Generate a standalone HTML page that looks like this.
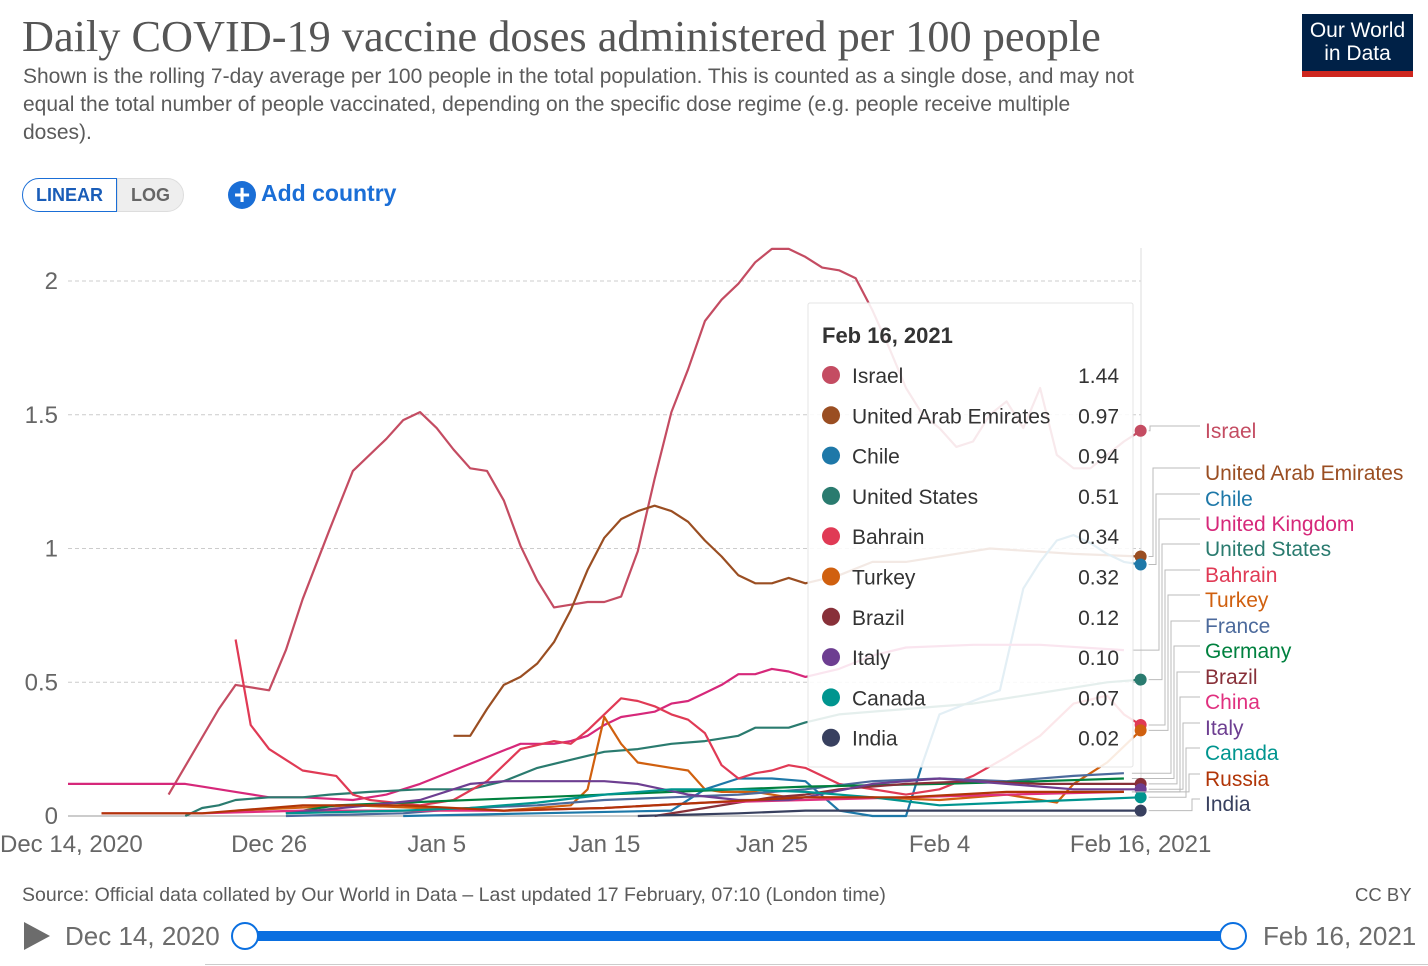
<!DOCTYPE html>
<html><head><meta charset="utf-8">
<style>
body{margin:0;background:#fff;font-family:"Liberation Sans",sans-serif;}
#wrap{position:relative;width:1428px;height:966px;overflow:hidden;}
.t{position:absolute;white-space:nowrap;}
</style></head>
<body>
<div id="wrap">
<div class="t" style="left:22px;top:11px;font-family:'Liberation Serif',serif;font-size:44.3px;color:#555;">Daily COVID-19 vaccine doses administered per 100 people</div>
<div class="t" style="left:23px;top:63px;font-size:21px;line-height:28px;color:#5b5b5b;">Shown is the rolling 7-day average per 100 people in the total population. This is counted as a single dose, and may not<br>equal the total number of people vaccinated, depending on the specific dose regime (e.g. people receive multiple<br>doses).</div>
<div style="position:absolute;left:1302px;top:14px;width:111px;height:63px;background:#002147;border-bottom:6px solid #ce261e;box-sizing:border-box;color:#fff;font-size:21px;line-height:23px;text-align:center;padding-top:5px;">Our World<br>in Data</div>
<div style="position:absolute;left:22px;top:178px;width:95px;height:34px;border:1px solid #1a6ed6;border-radius:17px 0 0 17px;box-sizing:border-box;color:#1a5db8;font-size:18px;font-weight:bold;text-align:center;line-height:32px;">LINEAR</div>
<div style="position:absolute;left:117px;top:178px;width:67px;height:34px;background:#eee;border:1px solid #ddd;border-radius:0 17px 17px 0;box-sizing:border-box;color:#666;font-size:18px;font-weight:bold;text-align:center;line-height:32px;">LOG</div>
<div style="position:absolute;left:228px;top:177px;height:32px;color:#1a6ed6;font-size:23px;font-weight:bold;line-height:32px;"><span style="display:inline-block;width:28px;height:28px;border-radius:14px;background:#1a6ed6;color:#fff;text-align:center;line-height:28px;font-size:28px;vertical-align:-3px;margin-right:5px;">+</span>Add country</div>
<svg id="chart" width="1428" height="966" style="position:absolute;left:0;top:0;"></svg>
<div class="t" style="left:22px;top:884px;font-size:19.5px;color:#5b5b5b;">Source: Official data collated by Our World in Data – Last updated 17 February, 07:10 (London time)</div>
<div class="t" style="left:1355px;top:884px;font-size:18.5px;color:#5b5b5b;">CC BY</div>
<div style="position:absolute;left:24px;top:922px;width:0;height:0;border-left:26px solid #6c6c6c;border-top:14px solid transparent;border-bottom:14px solid transparent;"></div>
<div class="t" style="left:65px;top:921px;font-size:26px;color:#6c6c6c;">Dec 14, 2020</div>
<div class="t" style="left:1263px;top:921px;font-size:26px;color:#6c6c6c;">Feb 16, 2021</div>
<div style="position:absolute;left:245px;top:931px;width:988px;height:10px;background:#0a6fe0;border-radius:5px;"></div>
<div style="position:absolute;left:231px;top:922px;width:24px;height:24px;border:2px solid #0a6fe0;background:#fff;border-radius:50%;"></div>
<div style="position:absolute;left:1219px;top:922px;width:24px;height:24px;border:2px solid #0a6fe0;background:#fff;border-radius:50%;"></div>
<div style="position:absolute;left:205px;top:964px;width:1223px;height:1px;background:#ccc;"></div>
</div>
<script>
const xTickLabels=["Dec 14, 2020","Dec 26","Jan 5","Jan 15","Jan 25","Feb 4","Feb 16, 2021"];
const xTickDays=[0,12,22,32,42,52,64];
const yTicks=[0,0.5,1,1.5,2];
const yTickLabels=["0","0.5","1","1.5","2"];
const names=["Israel","United Arab Emirates","Chile","United Kingdom","United States","Bahrain","Turkey","France","Germany","Brazil","China","Italy","Canada","Russia","India"];
const colors=["#c44c62","#9a4e22","#1e78a8","#d6287a","#2a7b6f","#e03a55","#d0600f","#4c6a9c","#00813f","#883039","#e0307f","#6d3e91","#00958f","#b13507","#38405f"];
const israelDays=[6,9,10,12,13,14,15.6,17,19,20,21,22,23,24,25,26,27,28,29,30,31,32,33,34,35,36,37,38,39,40,41,42,43,44,45,46,47,48,49,50,51,52,53,54,55,56,57,58,59,60,61,62,63,64];
const israelVals=[0.08,0.40,0.49,0.47,0.62,0.81,1.07,1.29,1.41,1.48,1.51,1.45,1.37,1.30,1.29,1.18,1.01,0.88,0.78,0.79,0.80,0.80,0.82,0.99,1.26,1.51,1.67,1.85,1.93,1.99,2.07,2.12,2.12,2.09,2.05,2.04,2.01,1.89,1.75,1.6,1.5,1.45,1.38,1.4,1.5,1.55,1.45,1.6,1.35,1.3,1.3,1.35,1.4,1.44];
const uaeDays=[23,24,25,26,27,28,29,30,31,32,33,34,35,36,37,38,39,40,41,42,43,44,46,48,50,55,60,64];
const uaeVals=[0.30,0.30,0.40,0.49,0.52,0.57,0.65,0.77,0.92,1.04,1.11,1.14,1.16,1.14,1.10,1.03,0.97,0.90,0.87,0.87,0.89,0.87,0.9,0.95,0.95,1.0,0.98,0.97];
const chileDays=[20,28,36,38,40,42,44,46,48,50,51,52,54,55.6,57,58,59,60,61,62,63,64];
const chileVals=[0,0.01,0.02,0.1,0.14,0.14,0.13,0.02,0,0,0.2,0.38,0.43,0.47,0.85,0.95,1.03,1.05,1.02,0.98,0.95,0.94];
const ukDays=[0,7,8,10,12,14,17,19,21,23,25,27,29,30,31,32,33,34,35,36,37,38,39,40,41,42,43,44,46,48,50,54,58,63];
const ukVals=[0.12,0.12,0.11,0.09,0.07,0.07,0.06,0.08,0.12,0.17,0.22,0.27,0.27,0.28,0.30,0.34,0.37,0.38,0.39,0.42,0.43,0.46,0.49,0.53,0.53,0.55,0.54,0.52,0.55,0.6,0.63,0.64,0.64,0.62];
const usDays=[7,8,9,10,12,14,15.6,18,21,24,26,28,30,32,34,36,38,40,41,43,44,46,50,54,58,62,64];
const usVals=[0,0.03,0.04,0.06,0.07,0.07,0.08,0.09,0.10,0.10,0.13,0.18,0.21,0.24,0.25,0.27,0.28,0.30,0.33,0.33,0.35,0.38,0.40,0.42,0.46,0.5,0.51];
const bahrainDays=[10,10.9,12,13,14,16,17,18,21,23,25,27,29,30,31,33,34,35,36,37,38,39,40,41,42,43,44,46,50,52,54,56,58,60,62,63,64];
const bahrainVals=[0.66,0.34,0.25,0.21,0.17,0.15,0.08,0.06,0.04,0.06,0.13,0.25,0.28,0.27,0.32,0.44,0.43,0.41,0.38,0.36,0.31,0.19,0.14,0.16,0.17,0.19,0.18,0.12,0.08,0.1,0.15,0.22,0.3,0.42,0.45,0.38,0.34];
const turkeyDays=[10,17,21,26,30,31,32,33,34,36,37,38,39,41,43,44,48,52,56,59,60,62,64];
const turkeyVals=[0.02,0.04,0.03,0.02,0.04,0.10,0.37,0.27,0.20,0.18,0.17,0.10,0.09,0.09,0.07,0.07,0.07,0.06,0.08,0.05,0.12,0.2,0.32];
const franceDays=[13,20,24,28,32,36,40,44,48,52,56,60,63];
const franceVals=[0,0.01,0.03,0.04,0.06,0.07,0.08,0.1,0.13,0.14,0.13,0.15,0.16];
const germanyDays=[13,16,20,28,36,44,52,58,63];
const germanyVals=[0.01,0.04,0.05,0.07,0.09,0.11,0.12,0.13,0.14];
const brazilDays=[35,38,40,42,44,46,50,54,58,64];
const brazilVals=[0,0.03,0.05,0.07,0.08,0.1,0.12,0.13,0.12,0.12];
const chinaDays=[2,8,14,20,26,32,38,44,50,56,63];
const chinaVals=[0.01,0.01,0.02,0.02,0.02,0.03,0.05,0.06,0.07,0.08,0.09];
const italyDays=[13,18,21,24,26,29,32,34,37,40,43,44,48,52,56,60,64];
const italyVals=[0.01,0.04,0.06,0.12,0.13,0.13,0.13,0.12,0.08,0.06,0.06,0.07,0.12,0.14,0.12,0.1,0.10];
const canadaDays=[13,20,24,28,32,36,40,44,48,52,56,60,64];
const canadaVals=[0.01,0.02,0.03,0.05,0.08,0.1,0.1,0.09,0.07,0.04,0.05,0.06,0.07];
const russiaDays=[2,8,14,20,26,32,38,44,50,56,63];
const russiaVals=[0.01,0.01,0.04,0.04,0.02,0.03,0.05,0.07,0.07,0.09,0.09];
const indiaDays=[34,40,44,50,54,64];
const indiaVals=[0,0.01,0.02,0.02,0.02,0.02];
const seriesDays=[israelDays,uaeDays,chileDays,ukDays,usDays,bahrainDays,turkeyDays,franceDays,germanyDays,brazilDays,chinaDays,italyDays,canadaDays,russiaDays,indiaDays];
const seriesVals=[israelVals,uaeVals,chileVals,ukVals,usVals,bahrainVals,turkeyVals,franceVals,germanyVals,brazilVals,chinaVals,italyVals,canadaVals,russiaVals,indiaVals];
const labelY=[432,474,500,525,550,576,601,627,652,678,703,729,754,780,805];
const tipNames=["Israel","United Arab Emirates","Chile","United States","Bahrain","Turkey","Brazil","Italy","Canada","India"];
const tipVals=["1.44","0.97","0.94","0.51","0.34","0.32","0.12","0.10","0.07","0.02"];

const NS="http://www.w3.org/2000/svg";
const svg=document.getElementById('chart');
const X=d=>68+d*16.76;
const Y=v=>816-v*267.5;
function mk(tag,attrs,parent){const e=document.createElementNS(NS,tag);for(const k in attrs)e.setAttribute(k,attrs[k]);(parent||svg).appendChild(e);return e;}

yTicks.forEach((v,i)=>{
  if(v>0){const g=mk('line',{x1:68,x2:1141,y1:Y(v),y2:Y(v),stroke:'#ccc','stroke-dasharray':'4,3'});
  
  }
  const t=mk('text',{x:58,y:Y(v)+8,'text-anchor':'end','font-size':24,fill:'#666','font-family':'Liberation Sans, sans-serif'});t.textContent=yTickLabels[i];
  
  
});
const base=mk('line',{x1:68,x2:1141,y1:816,y2:816,stroke:'#999'});


xTickDays.forEach((d,i)=>{
  let anchor='middle',x=X(d);
  if(i===0){anchor='start';x=0;}
  const t=mk('text',{x:x,y:852,'text-anchor':anchor,'font-size':24,fill:'#666','font-family':'Liberation Sans, sans-serif'});t.textContent=xTickLabels[i];
  
  
});
const vl=mk('line',{x1:1141,x2:1141,y1:248,y2:816,stroke:'#ddd'});


seriesDays.forEach((days,s)=>{
  const pts=days.map((d,i)=>X(d).toFixed(1)+','+Y(seriesVals[s][i]).toFixed(1)).join(' ');
  const p=mk('polyline',{points:pts,fill:'none',stroke:colors[s],'stroke-width':2.2,'stroke-linejoin':'round'});
  
  
  const last=days.length-1;
  if(days[last]===64){
    const c=mk('circle',{cx:X(64),cy:Y(seriesVals[s][last]),r:6,fill:colors[s]});
    
    
  }
  const ly=labelY[s];
  const cy=Y(seriesVals[s][last]);
  const con=mk('polyline',{points:`${X(days[last])+8},${cy} ${1150+s*3},${cy} ${1150+s*3},${ly-6} 1200,${ly-6}`,fill:'none',stroke:'#bbb','stroke-width':1});
  
  
  const t=mk('text',{x:1205,y:ly+6,'font-size':21,fill:colors[s],'font-family':'Liberation Sans, sans-serif'});t.textContent=names[s];
  
  
});
const tip=mk('rect',{x:808,y:303,width:325,height:464,fill:'#fff','fill-opacity':0.88,stroke:'#e4e4e4',rx:2});


const tt=mk('text',{x:822,y:343,'font-size':22,'font-weight':'bold',fill:'#333','font-family':'Liberation Sans, sans-serif'});tt.textContent='Feb 16, 2021';


tipNames.forEach((n,i)=>{
  const y=375+i*40.3;
  const c=mk('circle',{cx:831,cy:y,r:9,fill:colors[names.indexOf(n)]});
  
  
  const a=mk('text',{x:852,y:y+8,'font-size':21,fill:'#333','font-family':'Liberation Sans, sans-serif'});a.textContent=n;
  
  
  const b=mk('text',{x:1119,y:y+8,'text-anchor':'end','font-size':21,fill:'#333','font-family':'Liberation Sans, sans-serif'});b.textContent=tipVals[i];
  
  
});
</script>
</body></html>
